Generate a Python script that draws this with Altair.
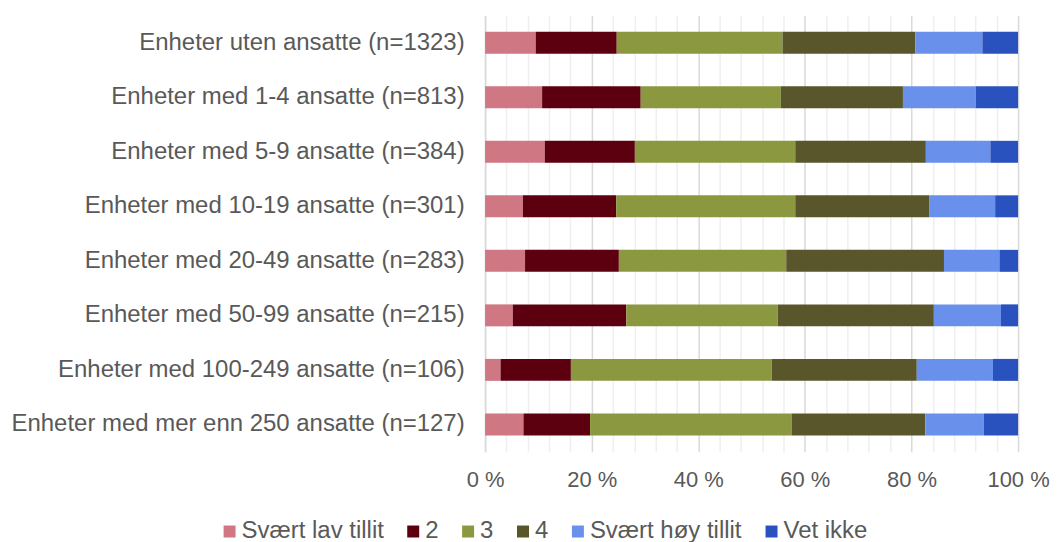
import altair as alt
import pandas as pd

categories = [
    "Enheter uten ansatte (n=1323)",
    "Enheter med 1-4 ansatte (n=813)",
    "Enheter med 5-9 ansatte (n=384)",
    "Enheter med 10-19 ansatte (n=301)",
    "Enheter med 20-49 ansatte (n=283)",
    "Enheter med 50-99 ansatte (n=215)",
    "Enheter med 100-249 ansatte (n=106)",
    "Enheter med mer enn 250 ansatte (n=127)",
]
series = ["Svært lav tillit", "2", "3", "4", "Svært høy tillit", "Vet ikke"]
colors = ["#D07784", "#5C0010", "#8C9840", "#5A562C", "#6991EC", "#2A52BE"]

svaert_lav = [9.5, 10.7, 11.2, 7.1, 7.5, 5.2, 2.9, 7.2]
to = [15.2, 18.5, 16.9, 17.5, 17.6, 21.3, 13.2, 12.5]
tre = [31.1, 26.3, 30.1, 33.6, 31.4, 28.4, 37.7, 37.8]
fire = [24.9, 22.9, 24.5, 25.1, 29.6, 29.3, 27.2, 25.1]
svaert_hoy = [12.6, 13.7, 12.1, 12.4, 10.4, 12.6, 14.3, 11.0]
vet_ikke = [6.7, 7.9, 5.2, 4.3, 3.5, 3.2, 4.7, 6.4]

values = [svaert_lav, to, tre, fire, svaert_hoy, vet_ikke]
rows = []
for si, (s, vals) in enumerate(zip(series, values)):
    for c, v in zip(categories, vals):
        rows.append({"kategori": c, "svar": s, "andel": v, "rekke": si})
df = pd.DataFrame(rows)

font = "Liberation Sans"
grid_values = list(range(0, 101, 4))

chart = alt.Chart(df).mark_bar(size=22).encode(
    y=alt.Y("kategori:N", sort=categories, title=None,
            axis=alt.Axis(labelFontSize=24, labelColor="#595959", labelFont=font,
                          labelPadding=21, ticks=False, domainColor="#d9d9d9",
                          domainWidth=1.5, labelLimit=700)),
    x=alt.X("andel:Q", stack="normalize", title=None,
            scale=alt.Scale(domain=[0, 1], nice=False),
            axis=alt.Axis(values=[v / 100 for v in grid_values], ticks=False, domain=False,
                          labelExpr="round(datum.value*100) % 20 == 0 ? round(datum.value*100) + ' %' : ''",
                          labelFontSize=22, labelColor="#595959", labelFont=font,
                          labelPadding=18, labelOverlap=False, labelFlush=False,
                          gridColor={"condition": {"test": "round(datum.value*100) % 20 == 0", "value": "#d9d9d9"}, "value": "#efefef"},
                          gridWidth=1.5)),
    color=alt.Color("svar:N", sort=series,
                    scale=alt.Scale(domain=series, range=colors),
                    legend=alt.Legend(orient="none", direction="horizontal", title=None,
                                      legendX=-268, legendY=505,
                                      symbolType="square", symbolSize=144, symbolStrokeWidth=0,
                                      labelFontSize=24, labelColor="#595959", labelFont=font,
                                      columnPadding=17, labelOffset=0)),
    order=alt.Order("rekke:Q", sort="ascending"),
).properties(
    width=534, height=437, padding={"left": 2, "top": 7, "right": 0, "bottom": 0}
).configure_view(stroke=None).configure_scale(bandPaddingInner=0.6, bandPaddingOuter=0.3)

chart.save("out.html", embed_options={"renderer": "svg", "actions": False})
